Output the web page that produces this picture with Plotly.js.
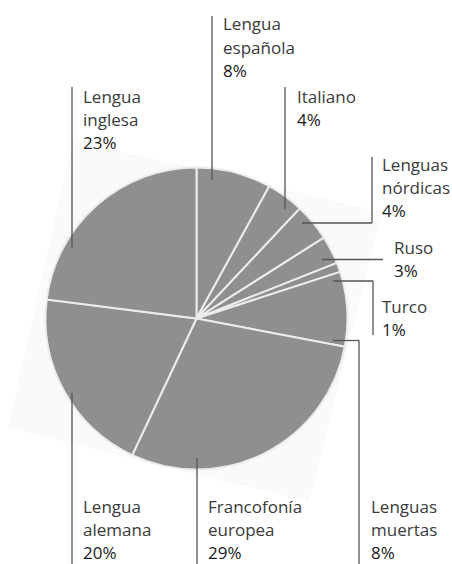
<!DOCTYPE html>
<html>
<head>
<meta charset="utf-8">
<script src="https://cdn.plot.ly/plotly-3.0.1.min.js"></script>
<style>html,body{margin:0;padding:0;background:#fff;}#chart{width:452px;height:564px;}</style>
</head>
<body>
<div id="chart"></div>
<script>
// Data
const labels = ['Lengua española','Italiano','Lenguas nórdicas','Ruso','Turco','Lenguas muertas','Francofonía europea','Lengua alemana','Lengua inglesa'];
const values = [8, 4, 4, 3, 1, 8, 29, 20, 23];

const W = 452, H = 564;
const px = x => x / W;
const py = y => 1 - y / H;

// Label placement (pixels): left x, centre of first line
const labelPos = [[222,24],[296,96],[381,164],[393,247],[381,306],[370,506],[207,506],[82,506],[82,96]];
// Leader lines (pixels)
const leaders = [
  [[212,16],[212,180]],
  [[285,87],[285,209]],
  [[372,157],[372,223],[302,223]],
  [[322,259.5],[383,259.5]],
  [[333,281],[373,281],[373,335]],
  [[333,340.5],[359,340.5],[359,564]],
  [[197,458],[197,564]],
  [[72,393],[72,564]],
  [[72,87],[72,248]]
];
const lineGap = 23.4;

const annotations = [];
labels.forEach((lab, i) => {
  const lines = lab.split(' ');
  const [tx, ty] = labelPos[i];
  lines.forEach((t, j) => {
    annotations.push({xref:'paper', yref:'paper', x:px(tx), y:py(ty + j*lineGap), xanchor:'left', yanchor:'middle', borderpad:0,
      text:t, showarrow:false, font:{family:'Open Sans, Noto Sans, sans-serif', size:17, color:'#3a3a3a'}});
  });
  annotations.push({xref:'paper', yref:'paper', x:px(tx), y:py(ty + lines.length*lineGap), xanchor:'left', yanchor:'middle', borderpad:0,
    text:values[i] + '%', showarrow:false, font:{family:'Open Sans, Noto Sans, sans-serif', size:17, color:'#1a1a1a'}});
});

const shapes = [];
// faint rotated backdrop
shapes.push({type:'path', xref:'paper', yref:'paper', layer:'below',
  path:`M ${px(73)} ${py(140)} L ${px(382)} ${py(212)} L ${px(309)} ${py(502)} L ${px(8)} ${py(428)} Z`,
  fillcolor:'#fafafa', line:{width:0}});
leaders.forEach(pts => {
  for (let k = 0; k < pts.length - 1; k++) {
    shapes.push({type:'line', xref:'paper', yref:'paper', layer:'above',
      x0:px(pts[k][0]), y0:py(pts[k][1]), x1:px(pts[k+1][0]), y1:py(pts[k+1][1]),
      line:{color:'#555555', width:1.3}});
  }
});

const cx = 196.5, cy = 318.5, r = 151;
const trace = {
  type:'pie', labels:labels, values:values, sort:false, direction:'clockwise', rotation:0,
  textinfo:'none', hoverinfo:'none',
  marker:{colors:labels.map(() => '#8f8f8f'), line:{color:'#ececec', width:2}},
  domain:{x:[px(cx - r), px(cx + r)], y:[py(cy + r), py(cy - r)]},
  showlegend:false
};

Plotly.newPlot('chart', [trace], {
  width:W, height:H, margin:{l:0,r:0,t:0,b:0},
  paper_bgcolor:'#ffffff', plot_bgcolor:'#ffffff',
  showlegend:false, annotations:annotations, shapes:shapes
}, {displayModeBar:false, staticPlot:true});
</script>
</body>
</html>
